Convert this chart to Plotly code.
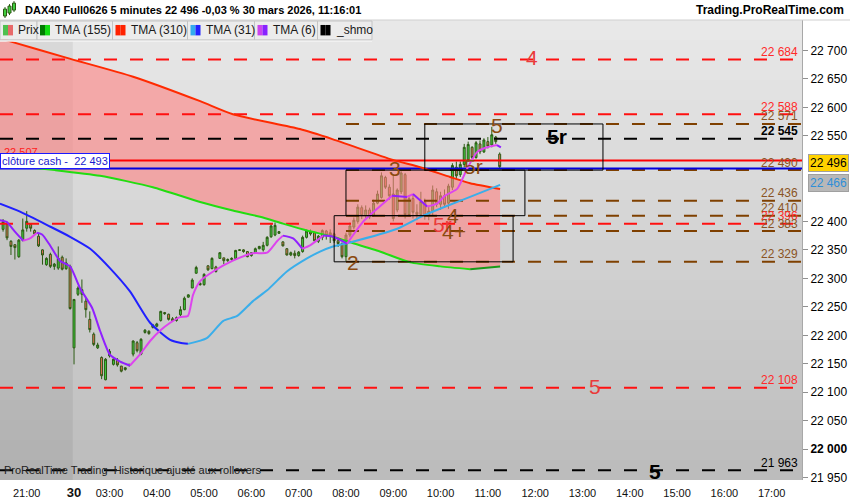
import plotly.graph_objects as go

# 5 minute bars: bar 0 = first bar of 30 mars (02:15), negative bars = friday session
bars = list(range(-18, 109))
opens = [22386, 22395, 22365, 22359, 22338, 22367, 22388, 22395, 22384, 22374, 22350, 22324, 22342, 22321, 22318, 22337, 22317, 22321,
         22178, 22272, 22272, 22260, 22228, 22202, 22178, 22161, 22122, 22164,
         22149, 22156, 22146, 22140, 22147, 22167, 22187, 22167, 22205, 22207,
         22214, 22216, 22226, 22240, 22237, 22229, 22226, 22236, 22245, 22267,
         22283, 22309, 22291, 22289, 22322, 22317, 22320, 22335, 22336, 22331,
         22333, 22335, 22349, 22350, 22347, 22340, 22345, 22352, 22350, 22358,
         22373, 22376, 22379, 22364, 22352, 22341, 22344, 22340, 22347, 22372,
         22382, 22380, 22365, 22372, 22383, 22376, 22378, 22366, 22361, 22338,
         22376, 22390, 22400, 22424, 22410, 22420, 22410, 22432, 22442, 22477,
         22460, 22448, 22420, 22452, 22482, 22412, 22440, 22416, 22412, 22434,
         22410, 22418, 22452, 22430, 22445, 22432, 22460, 22495, 22482, 22500,
         22508, 22530, 22512, 22536, 22522, 22540, 22534, 22548, 22518]
highs = [22404, 22399, 22367, 22360, 22369, 22405, 22418, 22397, 22386, 22378, 22351, 22337, 22345, 22327, 22356, 22340, 22335, 22324,
         22263, 22286, 22298, 22266, 22242, 22205, 22187, 22163, 22160, 22176,
         22162, 22160, 22146, 22144, 22150, 22191, 22190, 22195, 22211, 22209,
         22220, 22222, 22243, 22241, 22238, 22232, 22233, 22251, 22268, 22272,
         22300, 22322, 22293, 22309, 22323, 22337, 22322, 22346, 22336, 22335,
         22337, 22350, 22351, 22351, 22348, 22346, 22354, 22357, 22364, 22374,
         22395, 22398, 22383, 22365, 22353, 22347, 22349, 22348, 22375, 22386,
         22386, 22382, 22376, 22386, 22385, 22386, 22380, 22368, 22363, 22380,
         22398, 22407, 22430, 22428, 22428, 22424, 22438, 22454, 22486, 22480,
         22465, 22480, 22458, 22488, 22485, 22446, 22448, 22430, 22452, 22440,
         22425, 22463, 22458, 22452, 22456, 22466, 22502, 22505, 22505, 22536,
         22540, 22532, 22541, 22542, 22546, 22548, 22566, 22550, 22521]
lows = [22382, 22367, 22341, 22333, 22336, 22365, 22382, 22382, 22376, 22355, 22324, 22322, 22318, 22315, 22315, 22314, 22315, 22245,
        22149, 22269, 22257, 22231, 22205, 22181, 22176, 22123, 22121, 22161,
        22147, 22145, 22135, 22138, 22145, 22163, 22170, 22165, 22203, 22201,
        22212, 22214, 22224, 22236, 22226, 22225, 22224, 22233, 22244, 22266,
        22283, 22308, 22287, 22287, 22313, 22316, 22310, 22334, 22325, 22329,
        22331, 22334, 22348, 22345, 22337, 22338, 22344, 22351, 22347, 22356,
        22371, 22374, 22378, 22356, 22340, 22339, 22335, 22338, 22345, 22370,
        22375, 22364, 22362, 22367, 22368, 22362, 22362, 22355, 22335, 22330,
        22372, 22386, 22396, 22404, 22406, 22404, 22408, 22430, 22440, 22457,
        22438, 22400, 22416, 22448, 22405, 22408, 22405, 22402, 22408, 22403,
        22402, 22410, 22425, 22420, 22425, 22422, 22455, 22474, 22478, 22495,
        22505, 22508, 22510, 22518, 22520, 22528, 22530, 22536, 22493]
closes = [22399, 22371, 22356, 22354, 22367, 22385, 22400, 22388, 22378, 22357, 22341, 22335, 22321, 22325, 22335, 22316, 22327, 22247,
          22263, 22283, 22280, 22245, 22210, 22184, 22183, 22129, 22158, 22172,
          22158, 22148, 22137, 22143, 22149, 22190, 22173, 22193, 22209, 22203,
          22218, 22220, 22242, 22238, 22228, 22226, 22231, 22245, 22265, 22271,
          22297, 22319, 22289, 22307, 22315, 22335, 22312, 22345, 22331, 22333,
          22335, 22349, 22350, 22347, 22338, 22345, 22352, 22356, 22358, 22372,
          22392, 22393, 22382, 22357, 22341, 22345, 22340, 22346, 22372, 22383,
          22378, 22366, 22374, 22384, 22375, 22380, 22366, 22361, 22338, 22376,
          22392, 22402, 22425, 22410, 22420, 22408, 22432, 22448, 22480, 22460,
          22445, 22405, 22455, 22485, 22412, 22440, 22416, 22412, 22435, 22410,
          22418, 22455, 22430, 22445, 22430, 22462, 22498, 22480, 22500, 22530,
          22535, 22512, 22538, 22522, 22543, 22532, 22552, 22540, 22496]

# moving averages (bar, value)
tma310_bar = [-18.8, -16.2, -1.8, 15.0, 32.0, 40.3, 57.3, 65.7, 80.9, 87.8, 95.4, 100.5, 108.1]
tma310_val = [22722, 22716, 22687, 22654, 22611, 22588, 22562, 22544, 22508, 22495, 22478, 22467, 22457]
tma155_bar = [-18.8, -4.8, 6.6, 20.0, 32.0, 40.3, 47.2, 53.0, 59.1, 65.7, 69.3, 77.6, 85.3, 92.9, 100.5, 108.1]
tma155_val = [22500, 22490, 22480, 22460, 22434, 22419, 22408, 22396, 22384, 22373, 22365, 22347, 22328, 22321, 22316, 22321]
tma31_bar = [-18.8, -13.7, -6.1, -1.0, 4.1, 9.1, 14.2, 19.3, 24.4, 26.9, 28.9, 33.7, 37.8, 41.4, 45.4, 49.0,
             54.0, 59.1, 62.4, 65.7, 70.0, 82.0, 88.6, 94.6, 100.5, 108.1]
tma31_val = [22431, 22417, 22391, 22373, 22352, 22318, 22277, 22222, 22192, 22187, 22185, 22195, 22225, 22234, 22260, 22279,
             22312, 22335, 22347, 22356, 22363, 22387, 22410, 22427, 22443, 22464]
tma6_bar = [-18.8, -17.1, -15.0, -12.9, -11.2, -9.4, -8.1, -6.1, -3.6, -1.0, 1.5, 4.6, 6.6, 9.1, 11.7, 14.2, 16.7,
            19.3, 21.8, 24.4, 26.9, 28.9, 30.2, 32.0, 35.3, 40.3, 45.4, 49.0, 51.5, 53.0, 55.6, 57.9, 59.9, 63.2,
            65.7, 69.3, 73.3, 76.9, 80.7, 84.5, 86.0, 89.6, 92.1, 94.1, 97.2, 99.7, 102.3, 104.8, 107.3, 108.3]
tma6_val = [22402, 22399, 22382, 22366, 22370, 22380, 22377, 22358, 22331, 22321, 22283, 22248, 22208, 22166, 22154, 22147, 22166,
            22190, 22208, 22222, 22232, 22234, 22271, 22295, 22312, 22331, 22344, 22345, 22365, 22375, 22370, 22352, 22358, 22375,
            22373, 22361, 22399, 22422, 22445, 22443, 22448, 22426, 22431, 22445, 22457, 22492, 22522, 22530, 22534, 22530]

# horizontal levels
level_prices = [22684, 22588, 22571, 22545, 22490, 22436, 22410, 22396, 22383, 22329, 22108, 21963]
level_kinds = ['red', 'red', 'brown', 'black', 'brown', 'brown', 'brown', 'red', 'brown', 'brown', 'red', 'black']
brown_start_bar = 69  # 08:00
red_line = 22507
cash_close = 22493
last_price = 22496
last_tma31 = 22466

# wave boxes
box_from = [89, 69, 66]
box_to = [134.2, 114.4, 111.4]
box_low = [22490, 22410, 22329]
box_high = [22571, 22490, 22410]

# wave labels
wave_text = ['4', '5r', '5', '3', '5r', '4', '5r', '4+', '2', '5', '5']
wave_bar = [116.2, 122.6, 107.4, 81.4, 101.4, 96.2, 93.4, 96.4, 70.8, 132.2, 147.4]
wave_price = [22687, 22549, 22568, 22492, 22497, 22411, 22395, 22383, 22328, 22110, 21961]
wave_kind = ['red', 'black', 'brown', 'brown', 'brown', 'brown', 'red', 'brown', 'brown', 'red', 'black']

x_ticks = [-12, 0, 9, 21, 33, 45, 57, 69, 81, 93, 105, 117, 129, 141, 153, 165, 177]
x_labels = ['21:00', '30', '03:00', '04:00', '05:00', '06:00', '07:00', '08:00', '09:00', '10:00',
            '11:00', '12:00', '13:00', '14:00', '15:00', '16:00', '17:00']
y_ticks = [21950, 22000, 22050, 22100, 22150, 22200, 22250, 22300, 22350, 22400, 22550, 22600, 22650, 22700]

tabs = ['Prix', 'TMA (155)', 'TMA (310)', 'TMA (31)', 'TMA (6)', '_shmo']
tab_colors = [('#4fc04f', '#e86a6a'), ('#007a00', '#11dd11'), ('#ff2200', '#ff2200'),
              ('#33aaee', '#2222ff'), ('#cc44ee', '#8822ff'), ('#000000', '#000000')]

W, H = 850, 500
ML, MR, MT, MB = 0, 48, 20, 17
PW, PH = W - ML - MR, H - MT - MB
X_RANGE = [-18.78, 184.7]
Y_RANGE = [21946, 22753.5]
FONT = 'Liberation Sans, Arial, sans-serif'
COLORS = {'red': '#ff1010', 'brown': '#7f4000', 'black': '#000000'}
TEXT_COLORS = {'red': '#ff2a2a', 'brown': '#8a5424', 'black': '#000000'}
WAVE_COLORS = {'red': '#ea3a3a', 'brown': '#8b4a10', 'black': '#000000'}


def px(x):
    return (x - ML) / PW


def py(y):
    return (H - MB - y) / PH


def add_sloped_line(fig, xs, ys, up_color, down_color, width=2):
    # split a line in rising / falling runs, like the platform colours them
    seg_x, seg_y = [xs[0]], [ys[0]]
    rising = ys[1] >= ys[0]
    for i in range(1, len(xs)):
        r = ys[i] >= ys[i - 1]
        if r != rising and len(seg_x) > 1:
            fig.add_trace(go.Scatter(x=seg_x, y=seg_y, mode='lines', hoverinfo='skip',
                                     line=dict(color=up_color if rising else down_color, width=width, shape='spline', smoothing=0.6)))
            seg_x, seg_y = [xs[i - 1]], [ys[i - 1]]
            rising = r
        seg_x.append(xs[i])
        seg_y.append(ys[i])
    fig.add_trace(go.Scatter(x=seg_x, y=seg_y, mode='lines', hoverinfo='skip',
                             line=dict(color=up_color if rising else down_color, width=width, shape='spline', smoothing=0.6)))


fig = go.Figure()

# pink area between TMA 155 and TMA 310
fig.add_trace(go.Scatter(x=tma155_bar, y=tma155_val, mode='lines', line=dict(width=0, shape='spline', smoothing=0.6),
                         hoverinfo='skip'))
fig.add_trace(go.Scatter(x=tma310_bar, y=tma310_val, mode='lines', line=dict(width=0, shape='spline', smoothing=0.6),
                         fill='tonexty', fillcolor='rgba(255,130,130,0.6)', hoverinfo='skip'))

# dashed levels
for price, kind in zip(level_prices, level_kinds):
    x0 = brown_start_bar if kind == 'brown' else X_RANGE[0]
    fig.add_trace(go.Scatter(x=[x0, X_RANGE[1]], y=[price, price], mode='lines', hoverinfo='skip',
                             line=dict(color=COLORS[kind], width=2, dash='13px,13px')))

fig.add_trace(go.Candlestick(
    x=bars, open=opens, high=highs, low=lows, close=closes, whiskerwidth=0,
    increasing=dict(line=dict(color='#2b5a12', width=1), fillcolor='#3fcf3f'),
    decreasing=dict(line=dict(color='#2b5a12', width=1), fillcolor='#ec6f5c'),
    hoverinfo='skip',
))

# solid red level and cash close
fig.add_trace(go.Scatter(x=X_RANGE, y=[red_line, red_line], mode='lines', hoverinfo='skip',
                         line=dict(color='#ff0000', width=2)))
fig.add_trace(go.Scatter(x=X_RANGE, y=[cash_close, cash_close], mode='lines', hoverinfo='skip',
                         line=dict(color='#0000dd', width=2)))

add_sloped_line(fig, tma310_bar, tma310_val, '#ff2a00', '#ff2a00')
add_sloped_line(fig, tma155_bar, tma155_val, '#1a9a1a', '#22dd11')
add_sloped_line(fig, tma31_bar, tma31_val, '#3aaeea', '#2020ff')
add_sloped_line(fig, tma6_bar, tma6_val, '#dd44ee', '#9020ff')

shapes = []
# grey gradient background
n = 46
for i in range(n):
    t = (i + 0.5) / n
    c = int(round(233 - 46 * t))
    shapes.append(dict(type='rect', xref='paper', yref='paper', x0=0, x1=1, y0=1 - (i + 1) / n, y1=1 - i / n,
                       fillcolor=f'rgb({c},{c},{c})', line_width=0, layer='below'))
# previous session shading
shapes.append(dict(type='rect', xref='x', yref='paper', x0=X_RANGE[0], x1=-0.3, y0=0, y1=1,
                   fillcolor='rgba(0,0,0,0.06)', line_width=0, layer='below'))
# wave boxes
for x0, x1, lo, hi in zip(box_from, box_to, box_low, box_high):
    shapes.append(dict(type='rect', xref='x', yref='y', x0=x0, x1=x1, y0=lo, y1=hi,
                       line=dict(color='#000000', width=1), fillcolor='rgba(0,0,0,0)'))
# header bar
shapes.append(dict(type='rect', xref='paper', yref='paper', x0=px(0), x1=px(W), y0=py(20), y1=py(0),
                   fillcolor='white', line_width=0))
shapes.append(dict(type='line', xref='paper', yref='paper', x0=px(0), x1=px(W), y0=py(20), y1=py(20),
                   line=dict(color='#d0d0d0', width=1)))
# header icon
for cx, top, bot in [(5, 9, 16), (9.5, 6, 13), (14, 3, 10)]:
    shapes.append(dict(type='line', xref='paper', yref='paper', x0=px(cx), x1=px(cx), y0=py(bot + 2), y1=py(top - 2),
                       line=dict(color='#2b5a12', width=1)))
    shapes.append(dict(type='rect', xref='paper', yref='paper', x0=px(cx - 1.5), x1=px(cx + 1.5), y0=py(bot), y1=py(top),
                       fillcolor='#3fcf3f', line=dict(color='#2b5a12', width=1)))
# legend tabs
tab_edges = [0, 37, 112.5, 187.5, 254.5, 317.5, 372]
shapes.append(dict(type='rect', xref='paper', yref='paper', x0=px(0), x1=px(372), y0=py(42), y1=py(40),
                   fillcolor='#f4f4f4', line_width=0))
annotations = []
for i, name in enumerate(tabs):
    x0, x1 = tab_edges[i], tab_edges[i + 1]
    shapes.append(dict(type='rect', xref='paper', yref='paper', x0=px(x0), x1=px(x1), y0=py(40), y1=py(21),
                       fillcolor='#ececec', line=dict(color='#c4c4c4', width=1)))
    c1, c2 = tab_colors[i]
    shapes.append(dict(type='rect', xref='paper', yref='paper', x0=px(x0 + 3), x1=px(x0 + 8), y0=py(35.5), y1=py(25),
                       fillcolor=c1, line_width=0))
    shapes.append(dict(type='rect', xref='paper', yref='paper', x0=px(x0 + 8), x1=px(x0 + 13), y0=py(35.5), y1=py(25),
                       fillcolor=c2, line_width=0))
    annotations.append(dict(xref='paper', yref='paper', x=px(x0 + 16), y=py(30.5), text=name, showarrow=False,
                            xanchor='left', yanchor='middle', font=dict(family=FONT, size=12, color='#1a1a1a')))

annotations.append(dict(xref='paper', yref='paper', x=px(23), y=py(10), showarrow=False, xanchor='left', yanchor='middle',
                        text='<b>DAX40 Full0626 5 minutes 22 496 -0,03 % 30 mars 2026, 11:16:01</b>',
                        font=dict(family=FONT, size=11, color='#000000')))
annotations.append(dict(xref='paper', yref='paper', x=px(846), y=py(10), showarrow=False, xanchor='right', yanchor='middle',
                        text='<b>Trading.ProRealTime.com</b>', font=dict(family=FONT, size=12, color='#000000')))


def fmt(v):
    return f'{v:,}'.replace(',', ' ')


# level labels at the right edge of the plot
for price, kind in zip(level_prices, level_kinds):
    txt = fmt(price)
    if kind == 'black' and price > 22000:
        txt = f'<b>{txt}</b>'
    annotations.append(dict(xref='paper', yref='y', x=px(800), y=price, yshift=7.5, showarrow=False, xanchor='right',
                            yanchor='middle', text=txt, font=dict(family=FONT, size=12, color=TEXT_COLORS[kind])))

# wave counts
for t, b, p, kind in zip(wave_text, wave_bar, wave_price, wave_kind):
    txt = f'<b>{t}</b>' if kind == 'black' else t
    annotations.append(dict(xref='x', yref='y', x=b, y=p, text=txt, showarrow=False, xanchor='center', yanchor='middle',
                            font=dict(family=FONT, size=21, color=WAVE_COLORS[kind])))

# left labels
annotations.append(dict(xref='paper', yref='y', x=px(2), y=red_line, yshift=8, showarrow=False, xanchor='left',
                        yanchor='middle', text=fmt(red_line), font=dict(family=FONT, size=11, color='#ff2020')))
annotations.append(dict(xref='paper', yref='paper', x=px(0), y=py(162), showarrow=False, xanchor='left', yanchor='middle',
                        text=f'clôture cash -  {fmt(cash_close)}', bgcolor='white', bordercolor='#1a1aff', borderwidth=1,
                        borderpad=1, font=dict(family=FONT, size=11, color='#1a1acc')))
annotations.append(dict(xref='paper', yref='y', x=px(2), y=21963, showarrow=False, xanchor='left', yanchor='middle',
                        text='ProRealTime Trading  Historique ajusté aux rollovers',
                        font=dict(family=FONT, size=11, color='#202020')))

# price tags on the axis
annotations.append(dict(xref='paper', yref='y', x=px(808), y=last_price, yshift=4, showarrow=False, xanchor='left',
                        yanchor='middle', text=fmt(last_price), bgcolor='#ffd200', bordercolor='#a0a0a0', borderwidth=1,
                        borderpad=1, font=dict(family=FONT, size=12, color='#000000')))
annotations.append(dict(xref='paper', yref='y', x=px(808), y=last_tma31, yshift=1, showarrow=False, xanchor='left',
                        yanchor='middle', text=fmt(last_tma31), bgcolor='#b8b8b8', bordercolor='#a0a0a0', borderwidth=1,
                        borderpad=1, font=dict(family=FONT, size=12, color='#2f8fd8')))

y_text = [f'<b>{fmt(v)}</b>' if v % 1000 == 0 else fmt(v) for v in y_ticks]
x_text = ['<span style="font-size:13px"><b>' + t + '</b></span>' if ':' not in t else t for t in x_labels]

fig.update_layout(
    width=W, height=H,
    margin=dict(l=ML, r=MR, t=MT, b=MB),
    paper_bgcolor='white',
    plot_bgcolor='rgba(0,0,0,0)',
    showlegend=False,
    shapes=shapes,
    annotations=annotations,
    font=dict(family=FONT, size=12, color='#000000'),
    xaxis=dict(range=X_RANGE, tickvals=x_ticks, ticktext=x_text, showgrid=False, zeroline=False,
               rangeslider=dict(visible=False), ticks='outside', ticklen=3, tickcolor='rgba(0,0,0,0)',
               tickfont=dict(size=11, color='#111111'), showline=False),
    yaxis=dict(range=Y_RANGE, side='right', tickvals=y_ticks, ticktext=y_text, showgrid=False, zeroline=False,
               ticks='outside', ticklen=5, tickcolor='#909090', showline=True, linecolor='#a8a8a8',
               tickfont=dict(size=12, color='#000000')),
)

# the page body has a default 8px margin, drop it so the chart sits at the window corner
fig.write_html('out.html', config={'displayModeBar': False},
               post_script="document.body.style.margin='0px'; document.body.style.overflow='hidden';")
